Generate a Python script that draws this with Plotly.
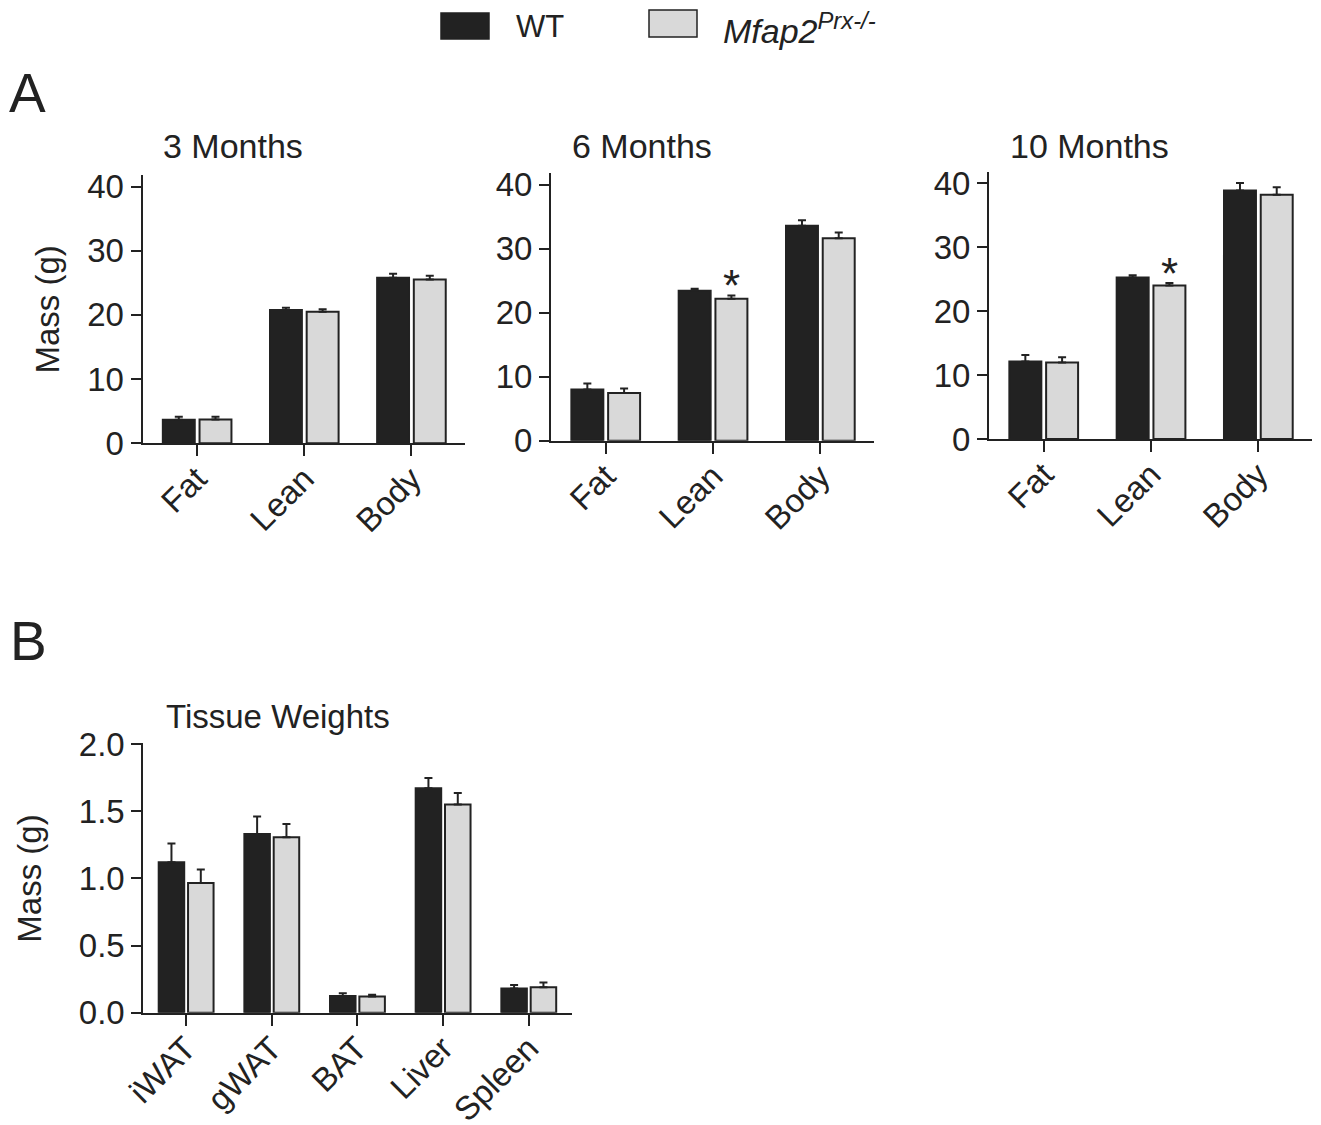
import plotly.graph_objects as go

# ---------------- data ----------------
body_cats = ["Fat", "Lean", "Body"]
tissue_cats = ["iWAT", "gWAT", "BAT", "Liver", "Spleen"]

panel_titles = ["3 Months", "6 Months", "10 Months"]

wt_3m = [3.65, 20.75, 25.8]
wt_3m_err = [0.5, 0.35, 0.6]
ko_3m = [3.7, 20.5, 25.5]
ko_3m_err = [0.45, 0.4, 0.6]
sig_3m = ["", "", ""]

wt_6m = [8.0, 23.45, 33.6]
wt_6m_err = [0.95, 0.3, 0.85]
ko_6m = [7.45, 22.2, 31.65]
ko_6m_err = [0.7, 0.5, 0.9]
sig_6m = ["", "*", ""]

wt_10m = [12.1, 25.25, 38.85]
wt_10m_err = [1.05, 0.35, 1.2]
ko_10m = [11.95, 24.0, 38.2]
ko_10m_err = [0.85, 0.4, 1.15]
sig_10m = ["", "*", ""]

wt_tissue = [1.12, 1.33, 0.125, 1.67, 0.18]
wt_tissue_err = [0.14, 0.13, 0.02, 0.077, 0.027]
ko_tissue = [0.965, 1.305, 0.12, 1.55, 0.19]
ko_tissue_err = [0.1, 0.1, 0.013, 0.085, 0.035]

series_names = ["WT", "Mfap2<sup>Prx-/-</sup>"]

# ---------------- styles ----------------
OFF = 8                      # page body margin
W, H = 1321 - OFF, 1125 - OFF
FONT = "Liberation Sans, Arial, Helvetica, sans-serif"
INK = "#222222"
WT_COLOR = "#222222"
KO_COLOR = "#d9d9d9"

def px(x):
    return (x - OFF) / W

def py(y):
    return 1 - (y - OFF) / H

fig = go.Figure()

panels = [
    (body_cats, wt_3m, wt_3m_err, ko_3m, ko_3m_err, sig_3m, "x", "y"),
    (body_cats, wt_6m, wt_6m_err, ko_6m, ko_6m_err, sig_6m, "x2", "y2"),
    (body_cats, wt_10m, wt_10m_err, ko_10m, ko_10m_err, sig_10m, "x3", "y3"),
    (tissue_cats, wt_tissue, wt_tissue_err, ko_tissue, ko_tissue_err, None, "x4", "y4"),
]

for cats, wt, wte, ko, koe, sig, xa, ya in panels:
    for name, vals, errs, col in [(series_names[0], wt, wte, WT_COLOR),
                                  (series_names[1], ko, koe, KO_COLOR)]:
        fig.add_trace(go.Bar(
            x=cats, y=vals, name=name, xaxis=xa, yaxis=ya,
            marker=dict(color=col, line=dict(color=INK, width=2)),
            error_y=dict(type="data", array=errs, arrayminus=[0] * len(errs),
                         symmetric=False, color=INK, thickness=2, width=4),
            showlegend=False,
        ))

# axes
common_x = dict(type="category", showline=True, linecolor=INK, linewidth=2,
                ticks="outside", ticklen=11, tickwidth=2, tickcolor=INK,
                tickangle=-45, tickfont=dict(family=FONT, size=33, color=INK),
                ticklabelstandoff=-10,
                showgrid=False, zeroline=False, fixedrange=True, automargin=False)
common_y = dict(showline=True, linecolor=INK, linewidth=2,
                ticks="outside", ticklen=10, tickwidth=2, tickcolor=INK,
                tickfont=dict(family=FONT, size=33, color=INK),
                showgrid=False, zeroline=False, fixedrange=True, automargin=False)

xdoms = [(142.5, 465), (551, 874), (989, 1312)]
ydoms = [(443.3, 175), (440.7, 173.3), (439, 171.7)]
for i in range(3):
    sfx = "" if i == 0 else str(i + 1)
    fig.update_layout(**{
        "xaxis" + sfx: dict(common_x, domain=[px(xdoms[i][0]), px(xdoms[i][1])],
                            range=[-0.51, 2.5], anchor="y" + sfx),
        "yaxis" + sfx: dict(common_y, domain=[py(ydoms[i][0]), py(ydoms[i][1])],
                            range=[0, 41.8], tickvals=[0, 10, 20, 30, 40],
                            anchor="x" + sfx),
    })

fig.update_layout(
    xaxis4=dict(common_x, domain=[px(143.3), px(571.6)], range=[-0.5, 4.5], anchor="y4"),
    yaxis4=dict(common_y, domain=[py(1012.7), py(743)], range=[0, 2.007],
                tickvals=[0, 0.5, 1.0, 1.5, 2.0], tickformat=".1f", anchor="x4"),
)

annotations = []
# panel titles
title_pos = [(232.5, 145.5), (642, 146), (1089.5, 146)]
for t, (x, y) in zip(panel_titles, title_pos):
    annotations.append(dict(text=t, x=px(x), y=py(y), xref="paper", yref="paper",
                            xanchor="center", yanchor="middle", showarrow=False,
                            font=dict(family=FONT, size=34, color=INK)))
annotations.append(dict(text="Tissue Weights", x=px(278.4), y=py(716.5), xref="paper", yref="paper",
                        xanchor="center", yanchor="middle", showarrow=False,
                        font=dict(family=FONT, size=33, color=INK)))
# panel letters
for t, (x, y) in [("A", (27.5, 93)), ("B", (28, 641))]:
    annotations.append(dict(text=t, x=px(x), y=py(y), xref="paper", yref="paper",
                            xanchor="center", yanchor="middle", showarrow=False,
                            font=dict(family=FONT, size=55, color=INK)))
# y-axis titles
for (x, y) in [(47.5, 310), (28.7, 879)]:
    annotations.append(dict(text="Mass (g)", x=px(x), y=py(y), xref="paper", yref="paper",
                            xanchor="center", yanchor="middle", textangle=-90, showarrow=False,
                            font=dict(family=FONT, size=33, color=INK)))
# significance stars (above the Mfap2 bars)
for cats, wt, wte, ko, koe, sig, xa, ya in panels:
    if sig is None:
        continue
    for i, s in enumerate(sig):
        if s:
            annotations.append(dict(text=s, x=i, y=ko[i] + koe[i], xref=xa, yref=ya,
                                    xshift=18, yshift=-17, xanchor="center", yanchor="bottom",
                                    showarrow=False,
                                    font=dict(family=FONT, size=44, color=INK)))

# legend (drawn manually)
shapes = [
    dict(type="rect", xref="paper", yref="paper", x0=px(441), x1=px(489), y0=py(39), y1=py(13),
         fillcolor=WT_COLOR, line=dict(color=INK, width=1.5)),
    dict(type="rect", xref="paper", yref="paper", x0=px(649), x1=px(697), y0=py(37), y1=py(10),
         fillcolor=KO_COLOR, line=dict(color=INK, width=1.5)),
]
annotations.append(dict(text=series_names[0], x=px(514), y=py(26), xref="paper", yref="paper",
                        xanchor="left", yanchor="middle", showarrow=False,
                        font=dict(family=FONT, size=31, color=INK)))
annotations.append(dict(text="<i>Mfap2</i><sup><i>Prx-/-</i></sup>", x=px(721), y=py(28),
                        xref="paper", yref="paper",
                        xanchor="left", yanchor="middle", showarrow=False,
                        font=dict(family=FONT, size=34, color=INK)))

fig.update_layout(
    width=W, height=H,
    margin=dict(l=0, r=0, t=0, b=0),
    paper_bgcolor="white", plot_bgcolor="white",
    barmode="group", bargap=0.315, bargroupgap=0.13,
    annotations=annotations, shapes=shapes,
    showlegend=False,
    font=dict(family=FONT, color=INK),
)

fig.write_html("out.html")
